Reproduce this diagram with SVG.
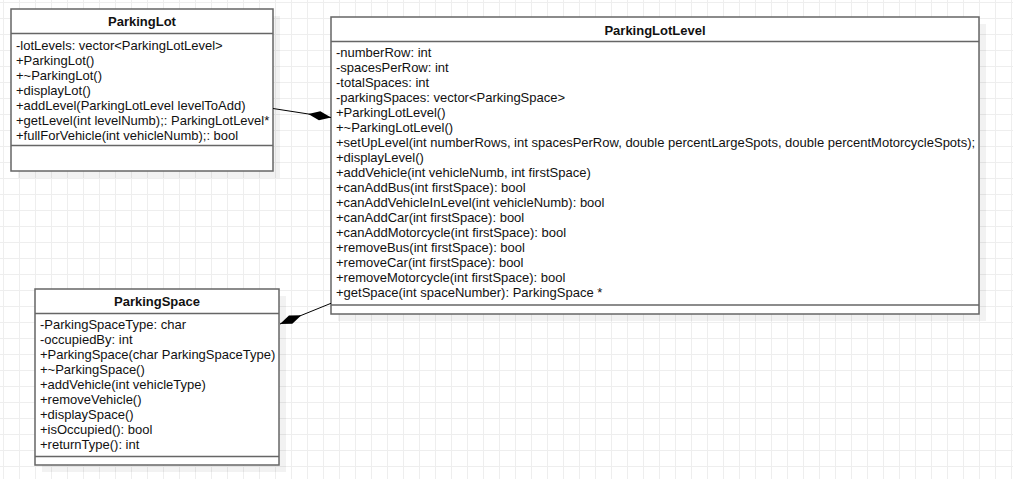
<svg xmlns="http://www.w3.org/2000/svg" width="1013" height="479" viewBox="0 0 1013 479">
  <style>
    .box { fill: #ffffff; stroke: #666666; stroke-width: 1.5; }
    .sep { stroke: #666666; stroke-width: 1.5; }
    .shadow { fill: #000000; fill-opacity: 0.05; }
    .title { font-family: "Liberation Sans", Arial, sans-serif; font-size: 13px; font-weight: bold; fill: #111111; text-anchor: middle; }
    .member { font-family: "Liberation Sans", Arial, sans-serif; font-size: 13px; fill: #111111; }
    .link { stroke: #000000; stroke-width: 1; fill: none; }
  </style>
  <defs>
    <pattern id="grid" patternUnits="userSpaceOnUse" x="3" y="2" width="16" height="16">
      <path d="M0.5 0 V16 M0 0.5 H16" stroke="#eeeeee" stroke-width="1" fill="none"/>
    </pattern>
    <marker id="composition" markerUnits="userSpaceOnUse" markerWidth="24" markerHeight="12" refX="23" refY="6" orient="auto">
      <path d="M0 6 L11.5 1.5 L23 6 L11.5 10.5 Z" fill="#000000"/>
    </marker>
  </defs>

  <!-- background with page grid -->
  <rect x="0" y="0" width="1013" height="479" fill="#ffffff"/>
  <rect x="0" y="0" width="1013" height="479" fill="url(#grid)"/>

  <!-- class: ParkingLot -->
  <g id="parking-lot">
    <rect class="shadow" x="18" y="16" width="262" height="162"/>
    <rect class="box" x="11" y="9" width="262" height="162"/>
    <line class="sep" x1="11" y1="33.5" x2="273" y2="33.5"/>
    <line class="sep" x1="11" y1="145.5" x2="273" y2="145.5"/>
    <text class="title" x="142" y="25.5">ParkingLot</text>
    <text class="member" x="16" y="49.5">-lotLevels: vector&lt;ParkingLotLevel&gt;</text>
    <text class="member" x="16" y="64.5">+ParkingLot()</text>
    <text class="member" x="16" y="79.5">+~ParkingLot()</text>
    <text class="member" x="16" y="94.5">+displayLot()</text>
    <text class="member" x="16" y="109.5">+addLevel(ParkingLotLevel levelToAdd)</text>
    <text class="member" x="16" y="124.5">+getLevel(int levelNumb);: ParkingLotLevel*</text>
    <text class="member" x="16" y="139.5">+fullForVehicle(int vehicleNumb);: bool</text>
  </g>

  <!-- class: ParkingLotLevel -->
  <g id="parking-lot-level">
    <rect class="shadow" x="338" y="24" width="648" height="297"/>
    <rect class="box" x="331" y="17" width="648" height="297"/>
    <line class="sep" x1="331" y1="41.5" x2="979" y2="41.5"/>
    <line class="sep" x1="331" y1="305" x2="979" y2="305"/>
    <text class="title" x="655" y="34.5">ParkingLotLevel</text>
    <text class="member" x="336" y="56.8">-numberRow: int</text>
    <text class="member" x="336" y="71.8">-spacesPerRow: int</text>
    <text class="member" x="336" y="86.8">-totalSpaces: int</text>
    <text class="member" x="336" y="101.8">-parkingSpaces: vector&lt;ParkingSpace&gt;</text>
    <text class="member" x="336" y="116.8">+ParkingLotLevel()</text>
    <text class="member" x="336" y="131.8">+~ParkingLotLevel()</text>
    <text class="member" x="336" y="146.8">+setUpLevel(int numberRows, int spacesPerRow, double percentLargeSpots, double percentMotorcycleSpots);</text>
    <text class="member" x="336" y="161.8">+displayLevel()</text>
    <text class="member" x="336" y="176.8">+addVehicle(int vehicleNumb, int firstSpace)</text>
    <text class="member" x="336" y="191.8">+canAddBus(int firstSpace): bool</text>
    <text class="member" x="336" y="206.8">+canAddVehicleInLevel(int vehicleNumb): bool</text>
    <text class="member" x="336" y="221.8">+canAddCar(int firstSpace): bool</text>
    <text class="member" x="336" y="236.8">+canAddMotorcycle(int firstSpace): bool</text>
    <text class="member" x="336" y="251.8">+removeBus(int firstSpace): bool</text>
    <text class="member" x="336" y="266.8">+removeCar(int firstSpace): bool</text>
    <text class="member" x="336" y="281.8">+removeMotorcycle(int firstSpace): bool</text>
    <text class="member" x="336" y="296.8">+getSpace(int spaceNumber): ParkingSpace *</text>
  </g>

  <!-- class: ParkingSpace -->
  <g id="parking-space">
    <rect class="shadow" x="42" y="296" width="244" height="176"/>
    <rect class="box" x="35" y="289" width="244" height="176"/>
    <line class="sep" x1="35" y1="313.5" x2="279" y2="313.5"/>
    <line class="sep" x1="35" y1="456.5" x2="279" y2="456.5"/>
    <text class="title" x="157" y="305.5">ParkingSpace</text>
    <text class="member" x="40" y="328.8">-ParkingSpaceType: char</text>
    <text class="member" x="40" y="343.8">-occupiedBy: int</text>
    <text class="member" x="40" y="358.8">+ParkingSpace(char ParkingSpaceType)</text>
    <text class="member" x="40" y="373.8">+~ParkingSpace()</text>
    <text class="member" x="40" y="388.8">+addVehicle(int vehicleType)</text>
    <text class="member" x="40" y="403.8">+removeVehicle()</text>
    <text class="member" x="40" y="418.8">+displaySpace()</text>
    <text class="member" x="40" y="433.8">+isOccupied(): bool</text>
    <text class="member" x="40" y="448.8">+returnType(): int</text>
  </g>

  <!-- composition links -->
  <g id="connectors">
    <line class="link" x1="273" y1="108.5" x2="331" y2="117.5" marker-end="url(#composition)"/>
    <line class="link" x1="331" y1="303.3" x2="280" y2="324" marker-end="url(#composition)"/>
  </g>
</svg>
